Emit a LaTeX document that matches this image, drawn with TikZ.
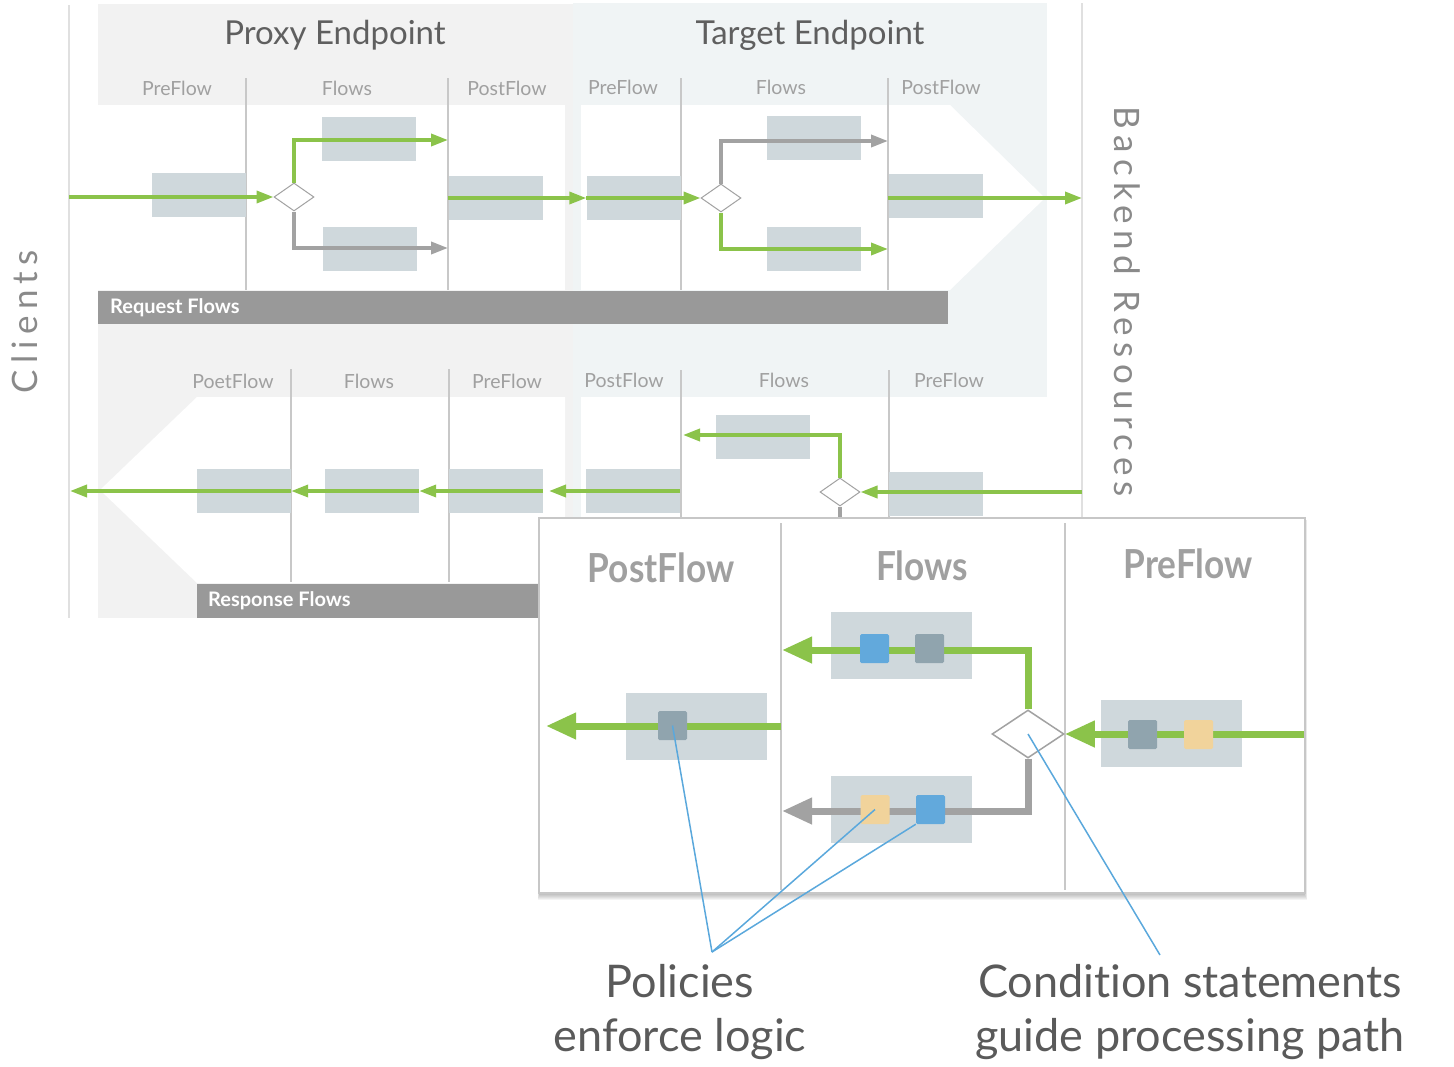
\documentclass[tikz,border=0pt]{standalone}
\usepackage{fontspec}
\usepackage{graphicx}
\setmainfont[Ligatures={CommonOff,RareOff}]{Lato}
\newfontfamily\spacedfont[LetterSpace=18]{Lato}
\usetikzlibrary{arrows.meta,shapes.geometric}
\definecolor{grn}{HTML}{8BC34A}
\definecolor{gry}{HTML}{A2A2A2}
\definecolor{boxc}{HTML}{CFD8DC}
\definecolor{sqgrey}{HTML}{90A4AE}
\definecolor{sqblue}{HTML}{62A9DC}
\definecolor{sqtan}{HTML}{F1D39B}
\definecolor{barc}{HTML}{999999}
\definecolor{proxybg}{HTML}{F2F2F2}
\definecolor{targetbg}{HTML}{F0F4F5}
\definecolor{divc}{HTML}{C8C8C8}
\definecolor{callc}{HTML}{5AA8DC}
\definecolor{titlec}{HTML}{5F5F5F}
\definecolor{subc}{HTML}{A0A0A0}
\definecolor{sidec}{HTML}{8A8A8A}
\definecolor{lblc}{HTML}{5A5A5A}
\tikzset{
  pbox/.style={fill=boxc, inner sep=0pt, minimum width=94pt, minimum height=44pt},
  zbox/.style={fill=boxc, inner sep=0pt, minimum width=141pt, minimum height=67pt},
  sq/.style={inner sep=0pt, minimum size=29pt, rounded corners=1.5pt},
  dia/.style={diamond, draw=gry, line width=1pt, fill=white, inner sep=0pt, minimum width=40pt, minimum height=28pt},
  bigdia/.style={diamond, draw=gry, line width=1.5pt, fill=white, inner sep=0pt, minimum width=72pt, minimum height=48pt},
  garrow/.style={draw=grn, line width=3.5pt, -{Triangle[length=17pt,width=12pt]}},
  yarrow/.style={draw=gry, line width=3.5pt, -{Triangle[length=17pt,width=12pt]}},
  zgarrow/.style={draw=grn, line width=7pt, -{Triangle[length=30pt,width=25pt]}},
  zyarrow/.style={draw=gry, line width=7pt, -{Triangle[length=30pt,width=25pt]}},
  divline/.style={draw=divc, line width=1.5pt},
  sideline/.style={draw=black!12, line width=2pt},
  titletxt/.style={text=titlec, font=\fontsize{33}{38}\selectfont, inner sep=0pt},
  subtxt/.style={text=subc, font=\fontsize{19.5}{22}\selectfont, inner sep=0pt},
  bartxt/.style={text=white, font=\fontsize{20}{24}\selectfont\bfseries, inner sep=0pt},
  sidetxt/.style={text=sidec, font=\fontsize{35}{40}\selectfont\spacedfont, inner sep=0pt},
  zhead/.style={text=subc, font=\fontsize{40}{44}\selectfont\bfseries, inner sep=0pt},
  biglbl/.style={text=lblc, font=\fontsize{45}{54}\selectfont, align=center, inner sep=0pt},
  callout/.style={draw=callc, line width=1.5pt},
  softshadow/.style={fill=black, opacity=0.045},
}
\begin{document}
\begin{tikzpicture}[x=1pt,y=-1pt]
\useasboundingbox (0,0) rectangle (1454,1066);
% panels
\fill[proxybg] (98,4) rectangle (573,618);
\fill[targetbg] (573,3) rectangle (1047,397);
\fill[targetbg] (573,397) rectangle (581,618);
\fill[white] (98,105) rectangle (565,290);
\fill[white] (581,105) -- (950,105) -- (1045,198) -- (950,290) -- (581,290) -- cycle;
\fill[white] (197,397) -- (565,397) -- (565,583) -- (197,583) -- (100,490) -- cycle;
\fill[white] (581,397) rectangle (1082,520);
% side lines
\draw[sideline] (69,5) -- (69,618);
\draw[sideline] (1082,3) -- (1082,517);
\node[sidetxt, rotate=90] (clients) at (25,322) {Clients};
\node[sidetxt, rotate=-90] (backend) at (1127,302) {Backend Resources};
% titles
\node[titletxt] (tprox) at (335,35) {Proxy Endpoint};
\node[titletxt] (ttarg) at (810,35) {Target Endpoint};
% sub headers
\node[subtxt] (h1) at (177,88) {PreFlow};
\node[subtxt] (h2) at (347,88) {Flows};
\node[subtxt] (h3) at (507,88) {PostFlow};
\node[subtxt] (h4) at (623,87) {PreFlow};
\node[subtxt] (h5) at (781,87) {Flows};
\node[subtxt] (h6) at (941,87) {PostFlow};
\node[subtxt] (h7) at (233,381) {PoetFlow};
\node[subtxt] (h8) at (369,381) {Flows};
\node[subtxt] (h9) at (507,381) {PreFlow};
\node[subtxt] (h10) at (624,380) {PostFlow};
\node[subtxt] (h11) at (784,380) {Flows};
\node[subtxt] (h12) at (949,380) {PreFlow};
% dividers
\draw[divline] (246,78) -- (246,290);
\draw[divline] (448,78) -- (448,290);
\draw[divline] (681,78) -- (681,290);
\draw[divline] (888,78) -- (888,290);
\draw[divline] (291,369) -- (291,582);
\draw[divline] (449,369) -- (449,582);
\draw[divline] (681,370) -- (681,520);
\draw[divline] (889,370) -- (889,520);
% bars
\node[fill=barc, inner sep=0pt, minimum width=850pt, minimum height=33pt, anchor=north west] (reqbar) at (98,291) {};
\node[bartxt, anchor=west] (reqtxt) at (110,308) {Request Flows};
\node[fill=barc, inner sep=0pt, minimum width=500pt, minimum height=34pt, anchor=north west] (resbar) at (197,584) {};
\node[bartxt, anchor=west] (restxt) at (208,601) {Response Flows};
% policy boxes request
\node[pbox] (pA) at (199,195) {};
\node[pbox] (pB) at (369,139) {};
\node[pbox] (pC) at (369.5,249) {};
\node[pbox] (pD) at (495.5,198) {};
\node[pbox] (tA) at (633.5,198) {};
\node[pbox] (tB) at (814,138) {};
\node[pbox] (tC) at (814,249) {};
\node[pbox] (tD) at (935.5,196) {};
% policy boxes response
\node[pbox] (rA) at (244,491) {};
\node[pbox] (rB) at (372,491) {};
\node[pbox] (rC) at (496,491) {};
\node[pbox] (rD) at (633,491) {};
\node[pbox] (rE) at (763,436.5) {};
\node[pbox] (rF) at (935.5,494) {};
% diamonds
\node[dia] (d1) at (294,197) {};
\node[dia] (d2) at (721,198) {};
\node[dia] (d3) at (840,492) {};
% coordinates
\coordinate (cliReq) at (69,197);
\coordinate (e1) at (448,140);
\coordinate (e2) at (448,248);
\coordinate (e3) at (888,141);
\coordinate (e4) at (888,249);
\coordinate (backReq) at (1082,198);
\coordinate (backRes) at (1082,492);
\coordinate (e5) at (683,435);
\coordinate (e6) at (840,522);
\coordinate (e7) at (549,491);
\coordinate (cliRes) at (70,491);
% request arrows
\draw[garrow] (cliReq) -- (d1.west);
\draw[garrow] (d1.north) |- (e1);
\draw[yarrow] (d1.south) |- (e2);
\draw[garrow] (pD.west) -- (tA.west);
\draw[garrow] (tA.west) -- (d2.west);
\draw[yarrow] (d2.north) |- (e3);
\draw[garrow] (d2.south) |- (e4);
\draw[garrow] (tD.west |- backReq) -- (backReq);
% response arrows
\draw[garrow] (backRes) -- (d3.east);
\draw[garrow] (d3.north) |- (e5);
\draw[draw=gry, line width=3.5pt] (d3.south) -- (e6);
\draw[garrow] (rD.east) -- (e7);
\draw[garrow] (rC.east) -- (rB.east);
\draw[garrow] (rB.east) -- (rA.east);
\draw[garrow] (rA.east) -- (cliRes);
% soft shadow of zoom box
\foreach \i in {1,...,8} {
  \fill[softshadow] (540-0.3*\i,520) rectangle (1303+0.5*\i,892+\i);
}
% zoom box
\node[fill=white, draw=black!22, line width=2pt, inner sep=0pt, minimum width=766pt, minimum height=375pt, anchor=north west] (zoom) at (538,517) {};
\draw[divline] (781,523) -- (781,890);
\draw[divline] (1065,523) -- (1065,890);
\node[zhead] (z1) at (661,568) {\scalebox{0.88}[1]{PostFlow}};
\node[zhead] (z2) at (922,566) {\scalebox{0.88}[1]{Flows}};
\node[zhead] (z3) at (1188,564) {\scalebox{0.88}[1]{PreFlow}};
\node[zbox] (zA) at (696.5,726) {};
\node[zbox] (zB) at (901.5,645.5) {};
\node[zbox] (zC) at (901.5,809.5) {};
\node[zbox] (zD) at (1171,733) {};
\node[bigdia] (d4) at (1028,734) {};
\coordinate (zin) at (1304,734);
\coordinate (zt) at (782,650);
\coordinate (zb) at (782,811);
\coordinate (zpo) at (781,726);
\coordinate (zout) at (546,726);
\draw[zgarrow] (zin) -- (d4.east);
\draw[zgarrow] (d4.north) |- (zt);
\draw[zyarrow] (d4.south) |- (zb);
\draw[zgarrow] (zpo) -- (zout);
\node[sq, fill=sqgrey] (s1) at (672.5,725.5) {};
\node[sq, fill=sqblue] (s2) at (874.5,648.5) {};
\node[sq, fill=sqgrey] (s3) at (929.5,648.5) {};
\node[sq, fill=sqtan] (s4) at (875,809.5) {};
\node[sq, fill=sqblue] (s5) at (930.5,809.5) {};
\node[sq, fill=sqgrey] (s6) at (1142.5,734.5) {};
\node[sq, fill=sqtan] (s7) at (1198.5,734.5) {};
% callouts
\coordinate (pol) at (712,952);
\coordinate (cond) at (1160,955);
\draw[callout] (s1.center) -- (pol);
\draw[callout] (s4.center) -- (pol);
\draw[callout] (s5.south west) -- (pol);
\draw[callout] (d4.center) -- (cond);
\node[biglbl] (polLbl) at (680,1012) {Policies\\enforce logic};
\node[biglbl] (condLbl) at (1190,1012) {Condition statements\\guide processing path};
\end{tikzpicture}
\end{document}
